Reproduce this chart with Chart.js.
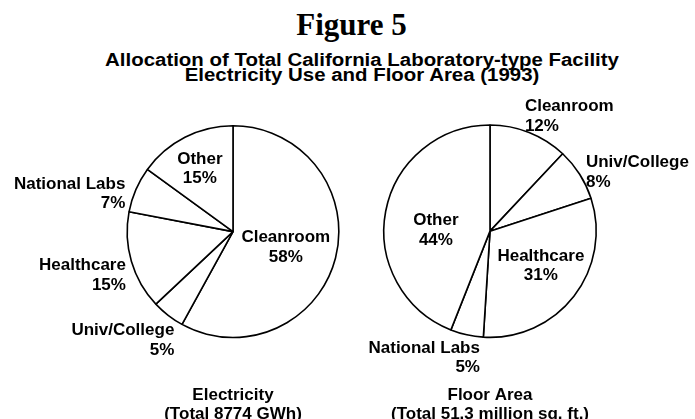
<!DOCTYPE html>
<html lang="en">
<head>
<meta charset="UTF-8" />
<title>Figure 5</title>
<script src="https://cdn.jsdelivr.net/npm/chart.js"></script>
<style>
  body { margin: 0; background: #fff; }
  #page { position: relative; width: 695px; height: 419px; overflow: hidden; background: #fff; }
  #fig {
    position: absolute; left: 0; width: 703px; top: 9px; text-align: center;
    font: bold 31px/31px "Liberation Serif", "Times New Roman", serif; color: #000;
  }
  #title {
    position: absolute; left: 0; width: 724px; top: 53px; text-align: center;
    font: bold 18px/14.5px "Liberation Sans", Arial, sans-serif; color: #000;
    transform: scaleX(1.135); transform-origin: 362px 0;
  }
  /* canvases run a few px past the page bottom so the captions sit low, as in the scan */
  .pie { position: absolute; top: 92px; height: 331px; }
  #elecWrap { left: 0; width: 347px; }
  #areaWrap { left: 347px; width: 348px; }
</style>
</head>
<body>
<div id="page">
  <div id="fig">Figure 5</div>
  <div id="title">Allocation of Total California Laboratory-type Facility<br>Electricity Use and Floor Area (1993)</div>
  <div class="pie" id="elecWrap"><canvas id="elecChart"></canvas></div>
  <div class="pie" id="areaWrap"><canvas id="areaChart"></canvas></div>
</div>
<script>
  // slice order runs clockwise from 12 o'clock
  const elecLabels = ["Cleanroom", "Univ/College", "Healthcare", "National Labs", "Other"];
  const elecValues = [58, 5, 15, 7, 15];
  const elecCaption = ["Electricity", "(Total 8774 GWh)"];

  const areaLabels = ["Cleanroom", "Univ/College", "Healthcare", "National Labs", "Other"];
  const areaValues = [12, 8, 31, 5, 44];
  const areaCaption = ["Floor Area", "(Total 51.3 million sq. ft.)"];

  // where each slice label sits: radius factor, angle nudge (deg), text alignment
  const elecLabelPos = [
    { f: 0.515, da: 0, align: "center" },
    { f: 1.15, da: -9, align: "right" },
    { f: 1.085, da: -5, align: "right" },
    { f: 1.085, da: -3, align: "right" },
    { f: 0.69, da: 0, align: "center" },
  ];
  const areaLabelPos = [
    { f: 1.15, da: -5, align: "left" },
    { f: 1.07, da: 0, align: "left" },
    { f: 0.57, da: -5, align: "center" },
    { f: 1.18, da: -8, align: "right" },
    { f: 0.51, da: -8, align: "center" },
  ];

  Chart.defaults.font.family = "'Liberation Sans', Arial, sans-serif";
  Chart.defaults.color = "#000";

  // draws "Name / NN%" next to each slice
  const sliceLabels = {
    id: "sliceLabels",
    afterDatasetsDraw(chart, args, opts) {
      const ctx = chart.ctx;
      const meta = chart.getDatasetMeta(0);
      const values = chart.data.datasets[0].data;
      const lineH = 19.5;
      ctx.save();
      ctx.font = "bold 17px 'Liberation Sans', Arial, sans-serif";
      ctx.fillStyle = "#000";
      ctx.textBaseline = "middle";
      meta.data.forEach((arc, i) => {
        const p = arc.getProps(["x", "y", "startAngle", "endAngle", "outerRadius"], true);
        const pos = opts.pos[i];
        const a = (p.startAngle + p.endAngle) / 2 + (pos.da * Math.PI) / 180;
        const x = p.x + Math.cos(a) * p.outerRadius * pos.f;
        const y = p.y + Math.sin(a) * p.outerRadius * pos.f + 2;
        ctx.textAlign = pos.align;
        ctx.fillText(chart.data.labels[i], x, y - lineH / 2);
        ctx.fillText(values[i] + "%", x, y + lineH / 2);
      });
      ctx.restore();
    },
  };

  function makePie(id, labels, values, caption, labelPos, padding) {
    return new Chart(document.getElementById(id), {
      type: "pie",
      data: {
        labels: labels,
        datasets: [
          {
            data: values,
            backgroundColor: "#fff",
            borderColor: "#000",
            borderWidth: 1.6,
            hoverOffset: 0,
          },
        ],
      },
      options: {
        responsive: true,
        maintainAspectRatio: false,
        animation: false,
        layout: { padding: padding },
        plugins: {
          legend: { display: false },
          tooltip: { enabled: false },
          title: {
            display: true,
            position: "bottom",
            text: caption,
            color: "#000",
            font: { size: 17, weight: "bold", lineHeight: 1.08 },
            padding: { top: 48, bottom: 0 },
          },
          sliceLabels: { pos: labelPos },
        },
      },
      plugins: [sliceLabels],
    });
  }

  makePie("elecChart", elecLabels, elecValues, elecCaption, elecLabelPos,
    { left: 126, right: 7, top: 33, bottom: 0 });
  makePie("areaChart", areaLabels, areaValues, areaCaption, areaLabelPos,
    { left: 36, right: 98, top: 32, bottom: 0 });
</script>
</body>
</html>
